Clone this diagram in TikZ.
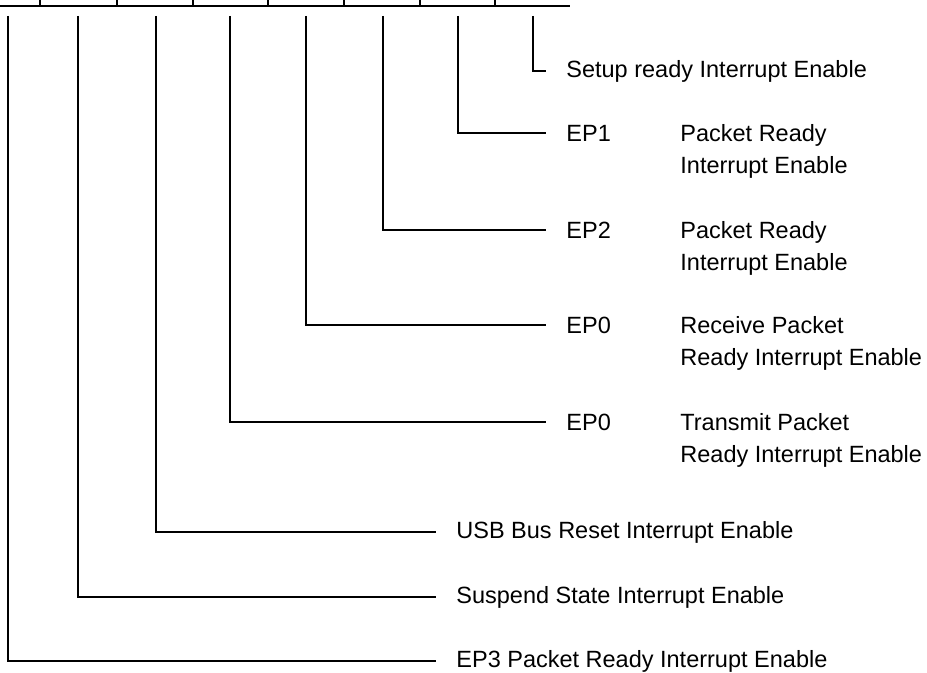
\documentclass[tikz,border=0pt]{standalone}
\usepackage{fontspec}
\setmainfont{Liberation Sans}

\tikzset{
	bitlabel/.style = {anchor=west, inner xsep=10pt, inner ysep=0pt, font=\fontsize{11.75}{16.25}\selectfont},
	bitdesc/.style = {anchor=base west, yshift=-16.25pt, inner sep=0pt, align=left, font=\fontsize{11.75}{16.25}\selectfont},
	bitline/.style = {line width=0.75pt}
}

\begin{document}
\begin{tikzpicture}[x=0.5pt, y=-0.5pt]
			\useasboundingbox (0,0) rectangle (927,673);
			% register row
			\draw[line width=1pt] (0,6) -- (570,6);
			\foreach \x in {40,117,193,268,344,420,495} {\draw[line width=1pt] (\x,0) -- (\x,6);}
			\foreach \x [count=\i from 0] in {533,458,383,306,230,156,78,8} {\coordinate (b\i) at (\x,16);}
			\coordinate (dcol) at (680,0);
			
			\node[bitlabel] (setup) at (546,71) {Setup ready Interrupt Enable};
			\node[bitlabel] (ep1) at (546,133) {EP1};
			\node[bitdesc] (ep1d) at (ep1.base -| dcol) {Packet Ready\\Interrupt Enable};
			\node[bitlabel] (ep2) at (546,230) {EP2};
			\node[bitdesc] (ep2d) at (ep2.base -| dcol) {Packet Ready\\Interrupt Enable};
			\node[bitlabel] (ep0r) at (546,325) {EP0};
			\node[bitdesc] (ep0rd) at (ep0r.base -| dcol) {Receive Packet\\Ready Interrupt Enable};
			\node[bitlabel] (ep0t) at (546,422) {EP0};
			\node[bitdesc] (ep0td) at (ep0t.base -| dcol) {Transmit Packet\\Ready Interrupt Enable};
			\node[bitlabel] (usbrst) at (436,532) {USB Bus Reset Interrupt Enable};
			\node[bitlabel] (susp) at (436,597) {Suspend State Interrupt Enable};
			\node[bitlabel] (ep3) at (436,661) {EP3 Packet Ready Interrupt Enable};
			
			\draw[bitline] (b0) |- (setup);
			\draw[bitline] (b1) |- (ep1);
			\draw[bitline] (b2) |- (ep2);
			\draw[bitline] (b3) |- (ep0r);
			\draw[bitline] (b4) |- (ep0t);
			\draw[bitline] (b5) |- (usbrst);
			\draw[bitline] (b6) |- (susp);
			\draw[bitline] (b7) |- (ep3);
\end{tikzpicture}
\end{document}
